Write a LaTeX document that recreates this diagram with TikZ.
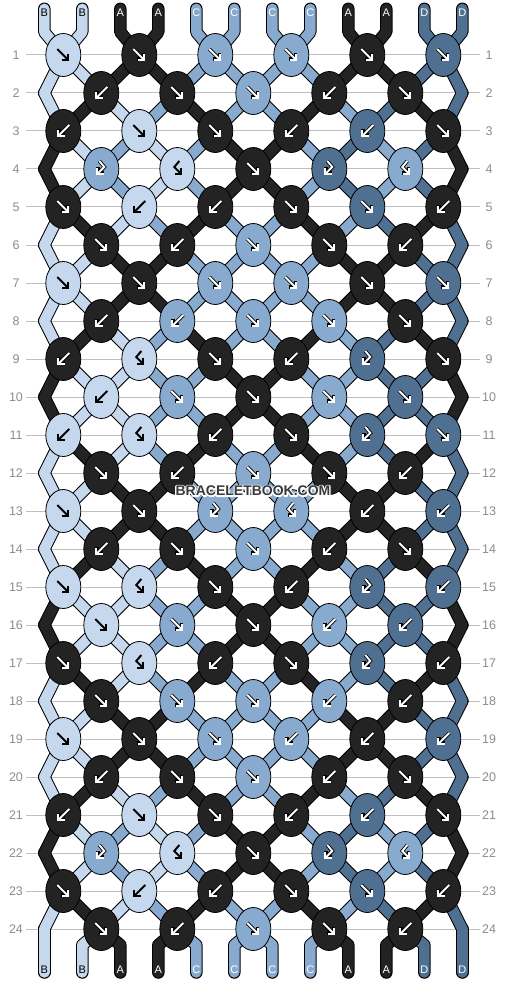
\documentclass[tikz,border=0pt]{standalone}
\usepackage{fontspec}
\setmainfont{Liberation Sans}
\usetikzlibrary{arrows.meta,shapes.geometric}

\definecolor{strA}{RGB}{35,35,35}
\definecolor{strB}{RGB}{198,216,237}
\definecolor{strC}{RGB}{136,170,207}
\definecolor{strD}{RGB}{80,112,146}
\definecolor{gridgray}{RGB}{192,192,192}
\definecolor{labgray}{RGB}{140,140,140}
\definecolor{markgray}{RGB}{58,58,58}

% knots of each row: colour/type
\def\knotrows{%
  1/{B/f,A/f,C/f,C/f,A/f,D/f},
  2/{A/b,A/f,C/f,A/b,A/f},
  3/{A/b,B/f,A/f,A/b,D/b,A/f},
  4/{C/bf,B/fb,A/f,D/bf,C/fb},
  5/{A/f,B/b,A/b,A/f,D/f,A/b},
  6/{A/f,A/b,C/f,A/f,A/b},
  7/{B/f,A/f,C/f,C/f,A/f,D/f},
  8/{A/b,C/b,C/f,C/f,A/f},
  9/{A/b,B/fb,A/f,A/b,D/bf,A/f},
  10/{B/b,C/f,A/f,C/f,D/f},
  11/{B/b,B/fb,A/b,A/f,D/bf,D/f},
  12/{A/f,A/b,C/f,A/f,A/b},
  13/{B/f,A/f,C/bf,C/fb,A/b,D/b},
  14/{A/b,A/f,C/f,A/b,A/f},
  15/{B/f,B/fb,A/f,A/b,D/bf,D/b},
  16/{B/f,C/f,A/f,C/b,D/b},
  17/{A/f,B/fb,A/b,A/f,D/bf,A/b},
  18/{A/f,C/f,C/f,C/b,A/b},
  19/{B/f,A/f,C/f,C/b,A/b,D/b},
  20/{A/b,A/f,C/f,A/b,A/f},
  21/{A/b,B/f,A/f,A/b,D/b,A/f},
  22/{C/bf,B/fb,A/f,D/bf,C/fb},
  23/{A/f,B/b,A/b,A/f,D/f,A/b},
  24/{A/f,A/b,C/f,A/f,A/b}}

% strings after a row
\def\sP{B,B,A,A,C,C,C,C,A,A,D,D}
\def\sQ{B,A,B,C,A,C,C,A,C,D,A,D}
\def\sR{A,B,C,B,C,A,A,C,D,C,D,A}
\def\sT{A,B,B,C,C,A,A,C,C,D,D,A}

% #1 := knot or edge that string position #3 runs through in row #2
\newcommand\setpos[3]{%
  \ifodd#2\relax
    \pgfmathtruncatemacro\kk{(#3+1)/2}\edef#1{k-#2-\kk}%
  \else
    \ifnum#3=1 \edef#1{el-#2}%
    \else\ifnum#3=12 \edef#1{er-#2}%
    \else\pgfmathtruncatemacro\kk{#3/2}\edef#1{k-#2-\kk}%
    \fi\fi
  \fi}

\begin{document}
\begin{tikzpicture}[x=1pt,y=-1pt,
    knot/.style={ellipse,draw=black,line width=0.8pt,
      minimum width=35pt,minimum height=43pt,inner sep=0pt},
    strk/.style={line width=#1,line cap=round,line join=round},
    rowlab/.style={text=labgray,font=\fontsize{12.5}{12.5}\selectfont},
    endlab/.style={inner sep=0pt,font=\fontsize{11}{11}\selectfont},
    labA/.style={text=white}, labB/.style={text=black},
    labC/.style={text=white}, labD/.style={text=white},
    markfont/.style={font=\fontsize{14}{14}\selectfont\bfseries},
    arrdark/.style={line width=2pt,black},
    arrout/.style={line width=3.6pt,black},
    arrin/.style={line width=1.9pt,white},
    tip/.style={-{Straight Barb[length=4.5pt,width=9pt]}},
    pics/f/.style={code={\draw[pic actions,tip] (-6,-6) -- (6,6);}},
    pics/b/.style={code={\draw[pic actions,tip] (6,-6) -- (-6,6);}},
    pics/fb/.style={code={\draw[pic actions,tip] (2,-8) -- (-3,-2) -- (5,6);}},
    pics/bf/.style={code={\draw[pic actions,tip] (-2,-8) -- (3,-2) -- (-5,6);}}]
  \useasboundingbox (0,0) rectangle (506,984);

  \foreach \r in {1,...,24} {
    \draw[gridgray,line width=1pt] (26,38*\r+17) -- (480,38*\r+17);
    \node[rowlab] (nl-\r) at (16,38*\r+17) {\r};
    \node[rowlab] (nr-\r) at (489,38*\r+17) {\r};
  }

  \foreach \r/\row in \knotrows {
    \ifodd\r \def\kx{-12.7}\else \def\kx{25.3}\fi
    \foreach \col/\typ [count=\k] in \row
      \coordinate (k-\r-\k) at (\kx+76*\k,38*\r+17);
  }
  \foreach \r in {2,4,...,24} {
    \coordinate (el-\r) at (44.3,38*\r+17);
    \coordinate (er-\r) at (462.3,38*\r+17);
  }
  \foreach \p in {1,...,12} {
    \coordinate (tt-\p) at (6.3+38*\p,8.8);
    \coordinate (tm-\p) at (6.3+38*\p,32);
    \coordinate (bm-\p) at (6.3+38*\p,945);
    \coordinate (bt-\p) at (6.3+38*\p,972.5);
  }

  % outline first, then colour
  \foreach \w/\pass in {12.5/0,10.5/1} {
    \foreach \c [count=\p] in \sP {
      \edef\dc{\ifnum\pass=0 black\else str\c\fi}
      \setpos\pb{1}{\p}
      \draw[strk=\w pt,draw=\dc] (tt-\p) -- (tm-\p) -- (\pb.center);
      \setpos\pa{24}{\p}
      \draw[strk=\w pt,draw=\dc] (\pa.center) -- (bm-\p) -- (bt-\p);
    }
    \foreach \r/\st in {1/P,2/Q,3/R,4/R,5/Q,6/P,7/P,8/Q,9/T,10/T,11/Q,12/P,
        13/P,14/Q,15/T,16/T,17/Q,18/P,19/P,20/Q,21/R,22/R,23/Q} {
      \pgfmathtruncatemacro\rn{\r+1}
      \edef\lst{\csname s\st\endcsname}
      \foreach \c [count=\p] in \lst {
        \edef\dc{\ifnum\pass=0 black\else str\c\fi}
        \setpos\pa{\r}{\p}\setpos\pb{\rn}{\p}
        \draw[strk=\w pt,draw=\dc] (\pa.center) -- (\pb.center);
      }
    }
  }

  \foreach \c [count=\p] in \sP {
    \node[endlab,lab\c] (et-\p) at (6.3+38*\p,13) {\c};
    \node[endlab,lab\c] (eb-\p) at (6.3+38*\p,970) {\c};
  }

  \foreach \r/\row in \knotrows
    \foreach \col/\typ [count=\k] in \row {
      \node[knot,fill=str\col] (kn-\r-\k) at (k-\r-\k) {};
      \if\col B\relax
        \pic[arrdark] at (k-\r-\k) {\typ};
      \else
        \pic[arrout] at (k-\r-\k) {\typ};
        \pic[arrin] at (k-\r-\k) {\typ};
      \fi
    }

  % white halo: stroked copy behind the text
  \node[markfont,text=markgray] (wm) at (253,491)
    {\rlap{\special{pdf:literal direct 1 1 1 RG 2.6 w 1 j 1 Tr}BRACELETBOOK.COM%
      \special{pdf:literal direct 0 Tr}}BRACELETBOOK.COM};
\end{tikzpicture}
\end{document}
